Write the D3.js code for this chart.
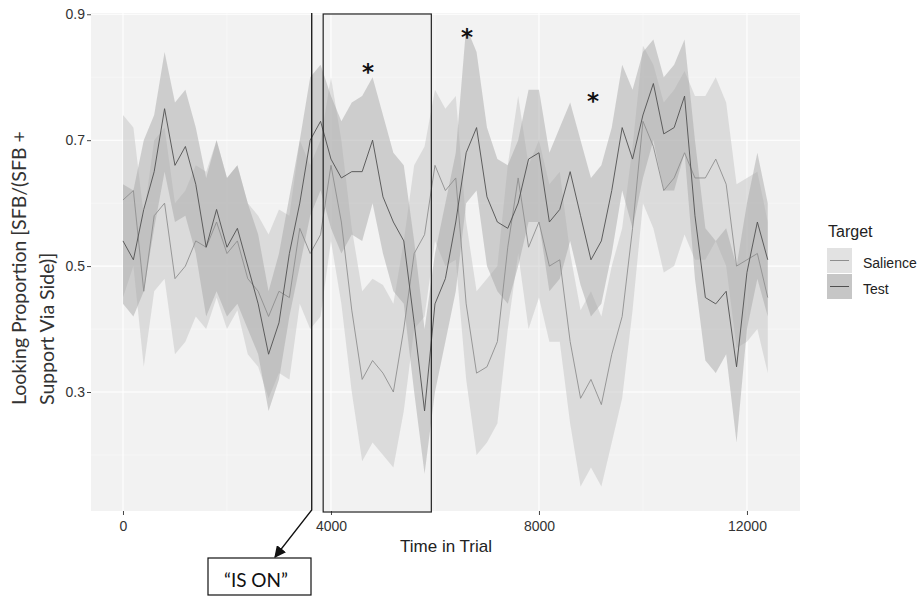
<!DOCTYPE html>
<html>
<head>
<meta charset="utf-8">
<script src="https://cdn.jsdelivr.net/npm/d3@7"></script>
<style>
  body { margin: 0; background: #fff; }
  svg text { font-family: 'Liberation Sans', Arial, sans-serif; }
</style>
</head>
<body>
<div id="chart"></div>
<script>
// time bins (ms), one every 200 ms
const times = d3.range(0, 12401, 200)

// Salience: mean and ribbon bounds
const salMean = [0.605, 0.62, 0.46, 0.58, 0.60, 0.48, 0.50, 0.54, 0.53, 0.57,
  0.52, 0.54, 0.48, 0.46, 0.42, 0.46, 0.45, 0.56, 0.52, 0.55,
  0.66, 0.57, 0.43, 0.32, 0.35, 0.33, 0.30, 0.40, 0.52, 0.55,
  0.66, 0.62, 0.64, 0.44, 0.33, 0.34, 0.38, 0.53, 0.64, 0.53,
  0.57, 0.50, 0.51, 0.38, 0.29, 0.32, 0.28, 0.36, 0.42, 0.56,
  0.73, 0.69, 0.62, 0.64, 0.68, 0.64, 0.64, 0.67, 0.63, 0.50,
  0.51, 0.52, 0.45]
const salHi = [0.74, 0.72, 0.58, 0.70, 0.72, 0.60, 0.62, 0.66, 0.65, 0.70,
  0.64, 0.66, 0.60, 0.58, 0.55, 0.59, 0.58, 0.70, 0.66, 0.70,
  0.80, 0.70, 0.56, 0.46, 0.48, 0.47, 0.44, 0.54, 0.66, 0.69,
  0.78, 0.75, 0.77, 0.57, 0.46, 0.48, 0.50, 0.66, 0.77, 0.66,
  0.70, 0.63, 0.65, 0.52, 0.43, 0.46, 0.42, 0.50, 0.56, 0.69,
  0.85, 0.82, 0.76, 0.78, 0.81, 0.77, 0.77, 0.80, 0.76, 0.63,
  0.64, 0.65, 0.57]
const salLo = [0.45, 0.50, 0.34, 0.46, 0.48, 0.36, 0.38, 0.42, 0.40, 0.45,
  0.40, 0.43, 0.36, 0.34, 0.29, 0.33, 0.32, 0.44, 0.40, 0.42,
  0.54, 0.44, 0.30, 0.19, 0.22, 0.20, 0.18, 0.27, 0.40, 0.42,
  0.54, 0.50, 0.51, 0.32, 0.20, 0.22, 0.25, 0.40, 0.52, 0.40,
  0.45, 0.38, 0.38, 0.25, 0.15, 0.18, 0.15, 0.22, 0.29, 0.43,
  0.60, 0.56, 0.49, 0.50, 0.55, 0.51, 0.51, 0.54, 0.50, 0.37,
  0.38, 0.40, 0.33]

// Test: mean and ribbon bounds
const testMean = [0.54, 0.51, 0.59, 0.65, 0.75, 0.66, 0.69, 0.63, 0.53, 0.59,
  0.53, 0.56, 0.50, 0.44, 0.36, 0.41, 0.52, 0.60, 0.70, 0.73,
  0.67, 0.64, 0.65, 0.65, 0.70, 0.61, 0.57, 0.54, 0.41, 0.27,
  0.44, 0.48, 0.57, 0.68, 0.72, 0.61, 0.57, 0.56, 0.60, 0.67,
  0.68, 0.57, 0.59, 0.65, 0.58, 0.51, 0.54, 0.62, 0.72, 0.67,
  0.74, 0.79, 0.71, 0.72, 0.77, 0.58, 0.45, 0.44, 0.46, 0.34,
  0.49, 0.57, 0.51]
const testHi = [0.63, 0.62, 0.70, 0.74, 0.84, 0.76, 0.78, 0.72, 0.64, 0.70,
  0.64, 0.66, 0.60, 0.55, 0.46, 0.52, 0.61, 0.70, 0.80, 0.82,
  0.77, 0.73, 0.76, 0.77, 0.80, 0.74, 0.68, 0.66, 0.54, 0.40,
  0.52, 0.60, 0.68, 0.88, 0.84, 0.72, 0.67, 0.66, 0.70, 0.78,
  0.78, 0.68, 0.72, 0.76, 0.70, 0.64, 0.66, 0.72, 0.82, 0.78,
  0.84, 0.86, 0.80, 0.82, 0.86, 0.70, 0.56, 0.54, 0.56, 0.50,
  0.60, 0.68, 0.60]
const testLo = [0.44, 0.42, 0.46, 0.56, 0.65, 0.57, 0.58, 0.52, 0.42, 0.46,
  0.42, 0.44, 0.40, 0.36, 0.27, 0.32, 0.42, 0.50, 0.58, 0.62,
  0.56, 0.52, 0.55, 0.54, 0.60, 0.52, 0.46, 0.44, 0.30, 0.17,
  0.30, 0.38, 0.46, 0.60, 0.62, 0.50, 0.46, 0.44, 0.50, 0.57,
  0.57, 0.46, 0.48, 0.54, 0.47, 0.42, 0.44, 0.52, 0.62, 0.56,
  0.64, 0.70, 0.62, 0.62, 0.68, 0.48, 0.35, 0.33, 0.36, 0.22,
  0.40, 0.48, 0.42]

const xTicks = [0, 4000, 8000, 12000]
const xMinor = [2000, 6000, 10000]
const yTicks = [0.3, 0.5, 0.7, 0.9]
const yMinor = [0.2, 0.4, 0.6, 0.8]
const seriesNames = ['Salience', 'Test']

// asterisks (time, value) and the "IS ON" marker
const stars = [[4710, 0.818], [6615, 0.873], [9040, 0.772]]
const onsetTime = 3630
const windowRange = [3850, 5930]

let width = 919
let height = 596
let svg = d3.select('#chart').append('svg')
  .attr('width', width)
  .attr('height', height)

let xScale = d3.scaleLinear().domain([-615, 13020]).range([91, 800])
let yScale = d3.scaleLinear().domain([0.111, 0.902]).range([511, 13])

// panel
svg.append('rect')
  .attr('x', 91).attr('y', 13)
  .attr('width', 709).attr('height', 498)
  .attr('fill', '#f2f2f2')

let grid = svg.append('g')
grid.selectAll('.ymin').data(yMinor).enter().append('line')
  .attr('x1', 91).attr('x2', 800)
  .attr('y1', d => yScale(d)).attr('y2', d => yScale(d))
  .attr('stroke', '#fafafa').attr('stroke-width', 0.6)
grid.selectAll('.xmin').data(xMinor).enter().append('line')
  .attr('y1', 13).attr('y2', 511)
  .attr('x1', d => xScale(d)).attr('x2', d => xScale(d))
  .attr('stroke', '#fafafa').attr('stroke-width', 0.6)
grid.selectAll('.ymaj').data(yTicks).enter().append('line')
  .attr('x1', 91).attr('x2', 800)
  .attr('y1', d => yScale(d)).attr('y2', d => yScale(d))
  .attr('stroke', '#ffffff').attr('stroke-width', 1.1)
grid.selectAll('.xmaj').data(xTicks).enter().append('line')
  .attr('y1', 13).attr('y2', 511)
  .attr('x1', d => xScale(d)).attr('x2', d => xScale(d))
  .attr('stroke', '#ffffff').attr('stroke-width', 1.1)

// build rows for each series
let salRows = times.map((t, i) => ({ t: t, m: salMean[i], lo: salLo[i], hi: salHi[i] }))
let testRows = times.map((t, i) => ({ t: t, m: testMean[i], lo: testLo[i], hi: testHi[i] }))

let area = d3.area()
  .x(d => xScale(d.t))
  .y0(d => yScale(d.lo))
  .y1(d => yScale(d.hi))

let line = d3.line()
  .x(d => xScale(d.t))
  .y(d => yScale(d.m))

// ribbons
svg.append('path').datum(salRows)
  .attr('d', area)
  .attr('fill', '#c8c8c8')
  .attr('opacity', 0.55)
svg.append('path').datum(testRows)
  .attr('d', area)
  .attr('fill', '#a6a6a6')
  .attr('opacity', 0.48)

// mean lines
svg.append('path').datum(salRows)
  .attr('d', line)
  .attr('fill', 'none')
  .attr('stroke', '#8e8e8e')
  .attr('stroke-width', 0.9)
svg.append('path').datum(testRows)
  .attr('d', line)
  .attr('fill', 'none')
  .attr('stroke', '#505050')
  .attr('stroke-width', 0.9)

// axes
let xAxis = svg.append('g')
  .attr('transform', 'translate(0,511)')
  .call(d3.axisBottom(xScale).tickValues(xTicks).tickSize(4).tickPadding(6).tickFormat(d3.format('d')))
let yAxis = svg.append('g')
  .attr('transform', 'translate(91,0)')
  .call(d3.axisLeft(yScale).tickValues(yTicks).tickSize(4).tickPadding(2).tickFormat(d3.format('.1f')))
;[xAxis, yAxis].forEach(a => {
  a.select('.domain').remove()
  a.selectAll('line').attr('stroke', '#444')
  a.selectAll('text').attr('fill', '#333').style('font-size', '14px')
})

// axis titles
svg.append('text')
  .attr('x', 446).attr('y', 552)
  .attr('text-anchor', 'middle')
  .style('font-size', '17px')
  .attr('fill', '#222')
  .text('Time in Trial')

let yTitle = svg.append('g').attr('transform', 'translate(0,405) rotate(-90)')
yTitle.append('text')
  .attr('x', 0).attr('y', 26)
  .style('font-family', 'Lato, sans-serif')
  .style('font-size', '19.5px')
  .attr('fill', '#333')
  .text('Looking Proportion  [SFB/(SFB +')
yTitle.append('text')
  .attr('x', 0).attr('y', 54)
  .style('font-family', 'Lato, sans-serif')
  .style('font-size', '19.5px')
  .attr('fill', '#333')
  .text('Support Via Side)]')

// legend
let legend = svg.append('g').attr('transform', 'translate(827,0)')
legend.append('text')
  .attr('x', 1).attr('y', 237)
  .style('font-size', '16px')
  .attr('fill', '#222')
  .text('Target')
let keyFill = ['#e2e2e2', '#c6c6c6']
let keyLine = ['#8e8e8e', '#505050']
seriesNames.forEach((name, i) => {
  let y0 = 248 + i * 26
  legend.append('rect')
    .attr('x', 0).attr('y', y0)
    .attr('width', 25).attr('height', 25)
    .attr('fill', keyFill[i])
  legend.append('line')
    .attr('x1', 3).attr('x2', 22)
    .attr('y1', y0 + 12.5).attr('y2', y0 + 12.5)
    .attr('stroke', keyLine[i]).attr('stroke-width', 1)
  legend.append('text')
    .attr('x', 36).attr('y', y0 + 20)
    .style('font-size', '14px')
    .attr('fill', '#222')
    .text(name)
})

// annotations
let onsetX = xScale(onsetTime)
svg.append('defs').append('marker')
  .attr('id', 'arrow')
  .attr('viewBox', '0 0 10 10')
  .attr('refX', 9).attr('refY', 5)
  .attr('markerWidth', 9).attr('markerHeight', 9)
  .attr('orient', 'auto')
  .append('path')
  .attr('d', 'M0,0 L10,5 L0,10 z')
  .attr('fill', '#111')

svg.append('polyline')
  .attr('points', [[onsetX, 13], [onsetX, 510], [275, 557]].map(p => p.join(',')).join(' '))
  .attr('fill', 'none')
  .attr('stroke', '#111')
  .attr('stroke-width', 1.3)
  .attr('marker-end', 'url(#arrow)')

svg.append('rect')
  .attr('x', 208).attr('y', 558)
  .attr('width', 103).attr('height', 37)
  .attr('fill', '#fff')
  .attr('stroke', '#111')
  .attr('stroke-width', 1.2)
svg.append('text')
  .attr('x', 256).attr('y', 587)
  .attr('text-anchor', 'middle')
  .style('font-family', 'Lato, sans-serif')
  .style('font-size', '19px')
  .attr('fill', '#111')
  .text('\u201CIS ON\u201D')

svg.append('rect')
  .attr('x', xScale(windowRange[0])).attr('y', 14)
  .attr('width', xScale(windowRange[1]) - xScale(windowRange[0]))
  .attr('height', 498)
  .attr('fill', 'none')
  .attr('stroke', '#222')
  .attr('stroke-width', 1.2)

svg.selectAll('.star').data(stars).enter().append('text')
  .attr('x', d => xScale(d[0]))
  .attr('y', d => yScale(d[1]) + 14)
  .attr('text-anchor', 'middle')
  .style('font-family', 'DejaVu Sans, sans-serif')
  .style('font-weight', 'bold')
  .style('font-size', '23px')
  .attr('fill', '#111')
  .text('*')
</script>
</body>
</html>
